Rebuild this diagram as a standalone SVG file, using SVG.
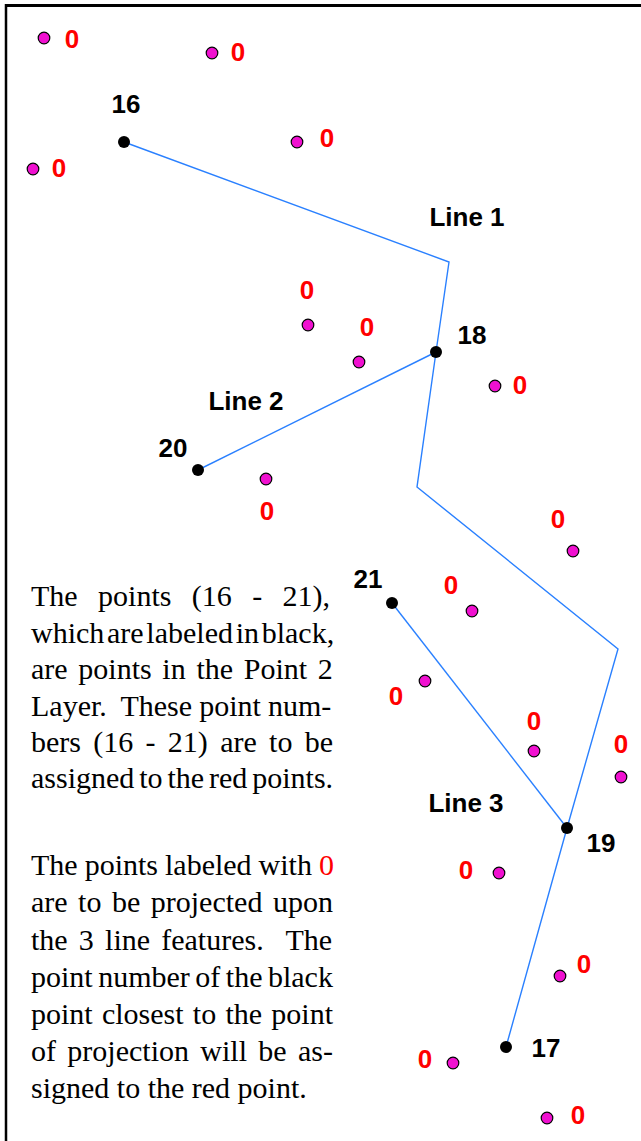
<svg xmlns="http://www.w3.org/2000/svg" width="641" height="1141" viewBox="0 0 641 1141">
<style>
.lbl{font-family:"Liberation Sans",Arial,sans-serif;font-weight:bold;font-size:26px;text-anchor:middle}
.zero{fill:#ff0000}
.num{fill:#000}
.pink{fill:#f010d0;stroke:#000;stroke-width:1.2}
.blk{fill:#000}
.ln{fill:none;stroke:#2a80ff;stroke-width:1.4;stroke-linejoin:miter}
.body{font-family:"Liberation Serif","Times New Roman",serif;font-size:30px;fill:#000}
</style>
<rect width="641" height="1141" fill="#fff"/>
<g id="frame">
<line x1="5" y1="5.5" x2="641" y2="5.5" stroke="#000" stroke-width="3"/>
<line x1="6" y1="4" x2="6" y2="1141" stroke="#000" stroke-width="2.5"/>
</g>
<g id="connectors">
<polyline id="line1" class="ln" points="124,142 449,262 436,352 417,487 618,649 567,828 506,1047"/>
<polyline id="line2" class="ln" points="198,470 436,352"/>
<polyline id="line3" class="ln" points="392,603 567,828"/>
</g>
<g id="line-labels">
<text class="lbl num" x="467" y="226">Line 1</text>
<text class="lbl num" x="246" y="410">Line 2</text>
<text class="lbl num" x="466" y="812">Line 3</text>
</g>
<g id="p16"><circle class="blk" cx="124" cy="142" r="6"/><text class="lbl num" x="126" y="113">16</text></g>
<g id="p18"><circle class="blk" cx="436" cy="352" r="6"/><text class="lbl num" x="472" y="344">18</text></g>
<g id="p20"><circle class="blk" cx="198" cy="470" r="6"/><text class="lbl num" x="173" y="457">20</text></g>
<g id="p21"><circle class="blk" cx="392" cy="603" r="6"/><text class="lbl num" x="368" y="588">21</text></g>
<g id="p19"><circle class="blk" cx="567" cy="828" r="6"/><text class="lbl num" x="601" y="852">19</text></g>
<g id="p17"><circle class="blk" cx="506" cy="1047" r="6"/><text class="lbl num" x="546" y="1057">17</text></g>
<g id="r1"><circle class="pink" cx="44" cy="38" r="5.8"/><text class="lbl zero" x="72" y="48">0</text></g>
<g id="r2"><circle class="pink" cx="212" cy="53" r="5.8"/><text class="lbl zero" x="238" y="61">0</text></g>
<g id="r3"><circle class="pink" cx="297" cy="142" r="5.8"/><text class="lbl zero" x="327" y="147">0</text></g>
<g id="r4"><circle class="pink" cx="33" cy="169" r="5.8"/><text class="lbl zero" x="59" y="177">0</text></g>
<g id="r5"><circle class="pink" cx="308" cy="325" r="5.8"/><text class="lbl zero" x="307" y="299">0</text></g>
<g id="r6"><circle class="pink" cx="359" cy="362" r="5.8"/><text class="lbl zero" x="367" y="336">0</text></g>
<g id="r7"><circle class="pink" cx="495" cy="386" r="5.8"/><text class="lbl zero" x="520" y="394">0</text></g>
<g id="r8"><circle class="pink" cx="266" cy="479" r="5.8"/><text class="lbl zero" x="267" y="520">0</text></g>
<g id="r9"><circle class="pink" cx="573" cy="551" r="5.8"/><text class="lbl zero" x="558" y="528">0</text></g>
<g id="r10"><circle class="pink" cx="472" cy="611" r="5.8"/><text class="lbl zero" x="451" y="594">0</text></g>
<g id="r11"><circle class="pink" cx="425" cy="681" r="5.8"/><text class="lbl zero" x="396" y="705">0</text></g>
<g id="r12"><circle class="pink" cx="534" cy="751" r="5.8"/><text class="lbl zero" x="534" y="730">0</text></g>
<g id="r13"><circle class="pink" cx="621" cy="777" r="5.8"/><text class="lbl zero" x="621" y="753">0</text></g>
<g id="r14"><circle class="pink" cx="499" cy="873" r="5.8"/><text class="lbl zero" x="466" y="879">0</text></g>
<g id="r15"><circle class="pink" cx="560" cy="976" r="5.8"/><text class="lbl zero" x="584" y="973">0</text></g>
<g id="r16"><circle class="pink" cx="453" cy="1063" r="5.8"/><text class="lbl zero" x="425" y="1068">0</text></g>
<g id="r17"><circle class="pink" cx="547" cy="1118" r="5.8"/><text class="lbl zero" x="578" y="1124">0</text></g>
<g id="description" class="body">
<text x="31" y="606" word-spacing="12.9">The points (16 - 21),</text>
<text x="31" y="642.5" word-spacing="-4.8">which are labeled in black,</text>
<text x="31" y="679" word-spacing="3.2">are points in the Point 2</text>
<text x="31" y="715.5" word-spacing="-0.4">Layer.&#160; These point num-</text>
<text x="31" y="752" word-spacing="4.8">bers (16 - 21) are to be</text>
<text x="31" y="788" word-spacing="-2.6">assigned to the red points.</text>
<text x="31" y="875" word-spacing="-0.5">The points labeled with <tspan fill="#ff0000">0</tspan></text>
<text x="31" y="912" word-spacing="3.0">are to be projected upon</text>
<text x="31" y="949.5" word-spacing="3.7">the 3 line features.&#160; The</text>
<text x="31" y="987" word-spacing="-2">point number of the black</text>
<text x="31" y="1024" word-spacing="1.75">point closest to the point</text>
<text x="31" y="1061" word-spacing="3.85">of projection will be as-</text>
<text x="31" y="1098">signed to the red point.</text>
</g>
</svg>
